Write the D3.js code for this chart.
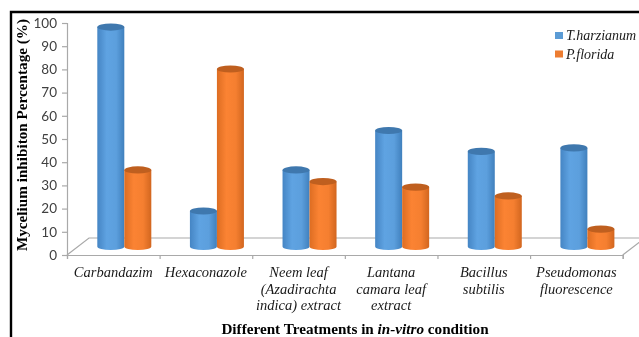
<!DOCTYPE html>
<html>
<head>
<meta charset="utf-8">
<script src="https://cdnjs.cloudflare.com/ajax/libs/d3/7.8.5/d3.min.js"></script>
<style>
  html, body { margin: 0; padding: 0; background: #fff; overflow: hidden; }
</style>
</head>
<body>
<div id="chart"></div>
<script>
const categories = [
  ["Carbandazim"],
  ["Hexaconazole"],
  ["Neem leaf", "(Azadirachta", "indica) extract"],
  ["Lantana", "camara leaf", "extract"],
  ["Bacillus", "subtilis"],
  ["Pseudomonas", "fluorescence"]
];
const seriesNames = ["T.harzianum", "P.florida"];
const harzianum = [94.6, 15.3, 33, 50, 41, 42.5];
const florida = [33, 76.5, 28, 25.6, 21.8, 7.5];
const yTicks = [0, 10, 20, 30, 40, 50, 60, 70, 80, 90, 100];

const width = 639;
const height = 337;
const depthX = 22;
const depthY = 17;
const grey = "#a9a9a9";
const serif = "'Liberation Serif', serif";

const svg = d3.select("#chart")
  .append("svg")
  .attr("width", width)
  .attr("height", height)
  .style("display", "block")
  .style("filter", "blur(0.4px)");

const x = d3.scaleBand().domain(d3.range(categories.length)).range([67, 622.7]);
const y = d3.scaleLinear().domain([0, 100]).range([255, 23]);

const defs = svg.append("defs");
const gradients = [
  { id: "blue", stops: ["#4585c4", "#5fa3e2", "#5c9fdd", "#4080bd"], top: "#3f78ae" },
  { id: "orange", stops: ["#dd6d22", "#fb8333", "#f57f30", "#d2661f"], top: "#bf5f1f" }
];
gradients.forEach(g => {
  const lg = defs.append("linearGradient").attr("id", g.id);
  [0, 0.35, 0.7, 1].forEach((o, i) => {
    lg.append("stop").attr("offset", o).attr("stop-color", g.stops[i]);
  });
});

// outer frame, only the top and left edges fall inside the crop
svg.append("path")
  .attr("d", `M11,${height} V12 H${width}`)
  .attr("fill", "none")
  .attr("stroke", "#000")
  .attr("stroke-width", 2.4);

// floor of the 3d plot
const floorLeft = x.range()[0];
const floorRight = x.range()[1];
svg.append("path")
  .attr("d", `M${floorLeft},${y(0)} L${floorLeft + depthX},${y(0) - depthY} H${floorRight + depthX}`
    + ` M${floorRight},${y(0)} L${floorRight + depthX},${y(0) - depthY}`)
  .attr("fill", "none")
  .attr("stroke", grey)
  .attr("stroke-width", 1.2);

const yAxis = svg.append("g")
  .attr("transform", `translate(${floorLeft},0)`)
  .call(d3.axisLeft(y).tickValues(yTicks).tickSize(5).tickPadding(5));
yAxis.selectAll("path, line").attr("stroke", grey).attr("stroke-width", 1.2);
yAxis.selectAll("text")
  .attr("fill", "#404040")
  .style("font-family", "Lato, sans-serif")
  .style("font-size", "13.5px");

const xAxis = svg.append("g")
  .attr("transform", `translate(0,${y(0)})`)
  .call(d3.axisBottom(d3.scaleLinear().domain([0, 6]).range(x.range())).ticks(6).tickSize(4).tickFormat(""));
xAxis.selectAll("path, line").attr("stroke", grey).attr("stroke-width", 1.2);

// cylinders
const rx = 13.5;
const ry = 3.6;
const bars = [];
categories.forEach((c, i) => {
  const cx = x(i) + x.bandwidth() / 2 + depthX / 2;
  bars.push({ cx: cx - rx, v: harzianum[i], s: 0 });
  bars.push({ cx: cx + rx, v: florida[i], s: 1 });
});

const bar = svg.append("g").selectAll("g")
  .data(bars)
  .join("g");

bar.append("path")
  .attr("d", d => {
    const base = y(0) - depthY / 2;
    const top = y(d.v) - depthY / 2;
    return `M${d.cx - rx},${top} V${base} A${rx},${ry} 0 0 0 ${d.cx + rx},${base} V${top} Z`;
  })
  .attr("fill", d => `url(#${gradients[d.s].id})`);

bar.append("ellipse")
  .attr("cx", d => d.cx)
  .attr("cy", d => y(d.v) - depthY / 2)
  .attr("rx", rx)
  .attr("ry", ry)
  .attr("fill", d => gradients[d.s].top);

// category labels
const labelY = [277, 293.5, 309.5];
svg.append("g").selectAll("text")
  .data(categories)
  .join("text")
  .attr("text-anchor", "middle")
  .style("font-family", serif)
  .style("font-style", "italic")
  .style("font-size", "14.5px")
  .style("fill", "#1a1a1a")
  .each(function(d, i) {
    d3.select(this).selectAll("tspan")
      .data(d)
      .join("tspan")
      .attr("x", x(i) + x.bandwidth() / 2)
      .attr("y", (t, j) => labelY[j])
      .text(t => t);
  });

// legend
const legend = svg.append("g").selectAll("g")
  .data(seriesNames)
  .join("g")
  .attr("transform", (d, i) => `translate(555,${32 + i * 18.5})`);
legend.append("rect")
  .attr("width", 8)
  .attr("height", 7)
  .attr("fill", (d, i) => i === 0 ? "#5b9bd5" : "#ed7d31");
legend.append("text")
  .attr("x", 11)
  .attr("y", 8)
  .style("font-family", serif)
  .style("font-style", "italic")
  .style("font-size", "14px")
  .style("fill", "#1a1a1a")
  .text(d => d);

// axis titles
svg.append("text")
  .attr("transform", "translate(27,135) rotate(-90)")
  .attr("text-anchor", "middle")
  .style("font-family", serif)
  .style("font-weight", "bold")
  .style("font-size", "15.2px")
  .style("fill", "#000")
  .text("Mycelium inhibiton Percentage (%)");

const xTitle = svg.append("text")
  .attr("x", 355)
  .attr("y", 333.5)
  .attr("text-anchor", "middle")
  .style("font-family", serif)
  .style("font-weight", "bold")
  .style("font-size", "15.2px")
  .style("fill", "#000");
xTitle.append("tspan").text("Different Treatments in ");
xTitle.append("tspan").style("font-style", "italic").text("in-vitro");
xTitle.append("tspan").text(" condition");
</script>
</body>
</html>
